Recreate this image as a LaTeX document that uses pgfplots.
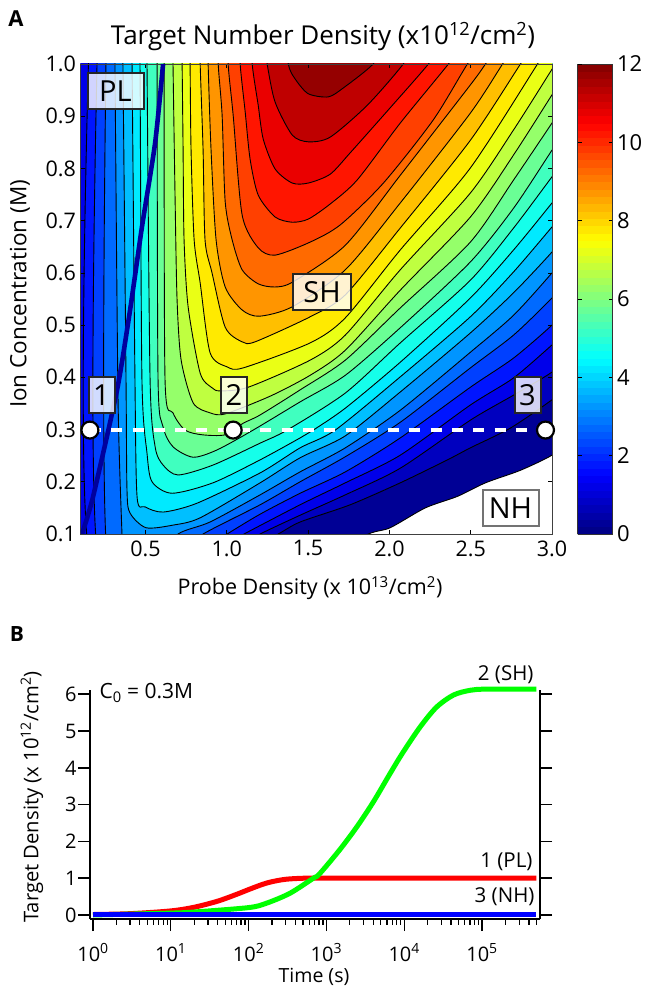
\documentclass[border=0pt]{standalone}
\usepackage{pgfplots}
\pgfplotsset{compat=1.18}
\usepackage{fontspec}
\setmainfont{Open Sans}
\definecolor{k0}{rgb}{0,0,.583}
\definecolor{k1}{rgb}{0,0,.75}
\definecolor{k2}{rgb}{0,0,.917}
\definecolor{k3}{rgb}{0,.083,1}
\definecolor{k4}{rgb}{0,.25,1}
\definecolor{k5}{rgb}{0,.417,1}
\definecolor{k6}{rgb}{0,.583,1}
\definecolor{k7}{rgb}{0,.75,1}
\definecolor{k8}{rgb}{0,.917,1}
\definecolor{k9}{rgb}{.083,1,.917}
\definecolor{k10}{rgb}{.25,1,.75}
\definecolor{k11}{rgb}{.417,1,.583}
\definecolor{k12}{rgb}{.583,1,.417}
\definecolor{k13}{rgb}{.75,1,.25}
\definecolor{k14}{rgb}{.917,1,.083}
\definecolor{k15}{rgb}{1,.917,0}
\definecolor{k16}{rgb}{1,.75,0}
\definecolor{k17}{rgb}{1,.583,0}
\definecolor{k18}{rgb}{1,.417,0}
\definecolor{k19}{rgb}{1,.25,0}
\definecolor{k20}{rgb}{1,.083,0}
\definecolor{k21}{rgb}{.917,0,0}
\definecolor{k22}{rgb}{.75,0,0}
\definecolor{k23}{rgb}{.583,0,0}
\definecolor{plblue}{rgb}{0,0,.62}
\newcommand{\band}[2]{\addplot[fill=#1,draw=black,line width=.9pt,line join=round,smooth,tension=.45,forget plot] coordinates {#2};}
\newcommand{\fs}[1]{\fontsize{#1}{#1}\selectfont}
\tikzset{lab/.style={draw=black!85,line width=2pt,fill=white,fill opacity=.82,text opacity=1,inner sep=0pt,minimum height=36pt,font=\fs{29}}}
\begin{document}
\begin{tikzpicture}
\useasboundingbox (0,0) rectangle (648pt,988pt);
% Panel A
\begin{axis}[name=main,at={(80.5pt,454pt)},anchor=south west,scale only axis,width=471.5pt,height=470pt,
 xmin=.1,xmax=3,ymin=.1,ymax=1,axis on top,
 xtick={.5,1,1.5,2,2.5,3},ytick={.1,.2,.3,.4,.5,.6,.7,.8,.9,1},
 tick align=inside,major tick length=4pt,tick style={black,line width=.7pt},
 axis line style={black!75,line width=.9pt},
 tick label style={font=\fs{21.5},/pgf/number format/assume math mode=true,/pgf/number format/fixed,/pgf/number format/fixed zerofill,/pgf/number format/precision=1},
 colormap/jet,point meta min=0,point meta max=12,colorbar sampled,
 colorbar style={samples=65,at={(parent axis.north east)},anchor=north west,xshift=17pt,
  scale only axis,width=35pt,height=470pt,ytick={0,2,...,12},ytick pos=both,yticklabel pos=right,
  tick align=inside,major tick length=4pt,axis line style={black!80,line width=.9pt},
  tick label style={font=\fs{22}},
  yticklabel style={xshift=1pt,/pgf/number format/fixed,/pgf/number format/precision=0,/pgf/number format/assume math mode=true}},
 xticklabel style={yshift=-3pt},yticklabel style={xshift=-1pt},
]
\band{k0}{(.05,1.1)(.05,.05)(1.5,.05)(1.870,.1)(2.005,.112)(2.221,.150)(2.418,.172)(2.591,.198)(2.806,.222)(3,.251)(3.1,.28)(3.1,1.1)}
\band{k1}{(.05,1.1)(.05,.05)(1.1,.065)(1.316,.1)(1.451,.123)(1.759,.156)(2.067,.198)(2.357,.242)(2.498,.265)(2.745,.303)(3,.357)(3.1,.385)(3.1,1.1)}
\band{k2}{(.05,1.1)(.05,.05)(1.0,.065)(1.205,.1)(1.451,.136)(1.729,.175)(2.067,.226)(2.498,.318)(2.764,.366)(3,.410)(3.1,.44)(3.1,1.1)}
\band{k3}{(.158,1.1)(.158,.05)(.9,.065)(1.106,.1)(1.451,.156)(1.729,.198)(2.067,.251)(2.498,.347)(2.764,.399)(3,.462)(3.1,.49)(3.1,1.1)}
\band{k4}{(.209,1.1)(.209,.05)(.8,.06)(1.002,.1)(1.205,.138)(1.451,.178)(1.729,.219)(2.067,.284)(2.498,.381)(2.764,.437)(3,.500)(3.1,.535)(3.1,1.1)}
\band{k5}{(.261,1.1)(.265,.05)(.65,.055)(.854,.1)(1.205,.156)(1.451,.200)(1.729,.248)(2.067,.314)(2.498,.418)(2.764,.481)(3,.552)(3.1,.59)(3.1,1.1)}
\band{k6}{(.31,1.1)(.312,1)(.331,.357)(.355,.1)(.36,.05)(.55,.05)(.700,.1)(.897,.123)(1.205,.175)(1.451,.219)(1.729,.265)(2.067,.337)(2.498,.448)(2.764,.519)(3,.600)(3.1,.64)(3.1,1.1)}
\band{k7}{(.355,1.1)(.361,1)(.380,.395)(.386,.184)(.405,.140)(.503,.112)(.669,.117)(.836,.131)(1.205,.198)(1.451,.246)(1.729,.288)(2.067,.372)(2.498,.485)(2.764,.562)(3,.640)(3.1,.68)(3.1,1.1)}
\band{k8}{(.41,1.1)(.417,1)(.435,.395)(.448,.171)(.497,.152)(.608,.142)(.817,.159)(1.205,.217)(1.451,.265)(1.667,.299)(2.067,.401)(2.498,.516)(2.764,.602)(3,.688)(3.1,.725)(3.1,1.1)}
\band{k9}{(.46,1.1)(.466,1)(.478,.395)(.509,.255)(.540,.200)(.663,.178)(.915,.198)(1.205,.242)(1.451,.284)(1.532,.299)(1.729,.341)(2.067,.429)(2.498,.552)(2.764,.644)(3,.734)(3.1,.775)(3.1,1.1)}
\band{k10}{(.505,1.1)(.509,1)(.528,.395)(.559,.267)(.608,.232)(.700,.213)(.915,.232)(1.205,.274)(1.371,.299)(1.729,.370)(2.067,.466)(2.498,.586)(2.764,.686)(3,.784)(3.1,.825)(3.1,1.1)}
\band{k11}{(.57,1.1)(.571,1)(.577,.395)(.608,.305)(.669,.267)(.793,.247)(.940,.261)(1.162,.299)(1.451,.353)(1.729,.404)(2.067,.495)(2.498,.621)(2.764,.724)(3,.835)(3.1,.88)(3.1,1.1)}
\band{k12}{(.61,1.1)(.614,1)(.620,.395)(.669,.332)(.743,.299)(.848,.290)(.990,.290)(1.100,.312)(1.205,.328)(1.451,.376)(1.729,.433)(2.067,.533)(2.498,.659)(2.764,.778)(3,.887)(3.1,.935)(3.1,1.1)}
\band{k13}{(.665,1.1)(.669,1)(.682,.738)(.694,.548)(.719,.433)(.793,.351)(.897,.332)(.990,.330)(1.267,.364)(1.513,.404)(1.729,.452)(2.067,.567)(2.498,.707)(2.764,.826)(3,.941)(3.1,.99)(3.1,1.1)}
\band{k14}{(.72,1.1)(.725,1)(.731,.835)(.737,.663)(.762,.535)(.836,.408)(.909,.380)(.959,.374)(1.131,.381)(1.513,.433)(1.729,.481)(2.067,.606)(2.498,.753)(2.764,.874)(3,.990)(3.1,1.04)(3.1,1.1)}
\band{k15}{(.77,1.1)(.774,1)(.780,.835)(.799,.663)(.836,.581)(.897,.447)(1.002,.420)(1.100,.418)(1.513,.466)(1.729,.514)(2.067,.644)(2.498,.801)(2.911,1)(3,1.045)(3,1.1)}
\band{k16}{(.83,1.1)(.836,1)(.854,.835)(.866,.663)(.909,.600)(.990,.496)(1.094,.468)(1.174,.468)(1.513,.516)(1.729,.558)(2.067,.686)(2.498,.854)(2.806,1)(2.9,1.045)(2.9,1.1)}
\band{k17}{(.88,1.1)(.885,1)(.903,.835)(.934,.663)(.990,.573)(1.094,.529)(1.199,.517)(1.402,.535)(1.729,.606)(2.067,.734)(2.498,.906)(2.696,1)(2.8,1.05)(2.8,1.1)}
\band{k18}{(.94,1.1)(.947,1)(.971,.902)(.990,.736)(1.033,.663)(1.094,.606)(1.193,.579)(1.297,.573)(1.408,.583)(1.729,.653)(2.067,.787)(2.498,.960)(2.591,1)(2.7,1.05)(2.7,1.1)}
\band{k19}{(1.0,1.1)(1.008,1)(1.039,.902)(1.094,.711)(1.193,.648)(1.297,.634)(1.513,.659)(1.698,.692)(1.963,.772)(2.270,.893)(2.480,1)(2.6,1.05)(2.6,1.1)}
\band{k20}{(1.07,1.1)(1.082,1)(1.113,.908)(1.143,.818)(1.193,.749)(1.297,.707)(1.402,.697)(1.501,.703)(1.636,.732)(1.802,.778)(2.067,.887)(2.363,1)(2.48,1.05)(2.48,1.1)}
\band{k21}{(1.14,1.1)(1.156,1)(1.193,.921)(1.224,.856)(1.297,.799)(1.402,.772)(1.501,.772)(1.636,.789)(1.759,.830)(1.993,.912)(2.240,1)(2.35,1.05)(2.35,1.1)}
\band{k22}{(1.2,1.1)(1.248,1)(1.297,.927)(1.402,.864)(1.501,.851)(1.636,.860)(1.864,.921)(2.085,1)(2.2,1.06)(2.2,1.1)}
\band{k23}{(1.33,1.1)(1.378,1)(1.421,.971)(1.501,.943)(1.624,.937)(1.716,.954)(1.90,1)(2.0,1.05)(2.0,1.1)}
\end{axis}
% Overlay on panel A
\begin{axis}[at={(80.5pt,454pt)},anchor=south west,scale only axis,width=471.5pt,height=470pt,
 xmin=.1,xmax=3,ymin=.1,ymax=1,hide axis,clip mode=individual]
\addplot[plblue,line width=4.6pt,line cap=butt,smooth,tension=.4] coordinates {(.608,1)(.559,.849)(.478,.688)(.405,.529)(.325,.376)(.177,.171)(.109,.1)};
\addplot[white,line width=4.5pt,dash pattern=on 11pt off 10.3pt] coordinates {(.158,.299)(2.96,.299)};
\addplot[only marks,mark=*,mark size=8.5pt,mark options={fill=white,draw=black,line width=2.2pt}] coordinates {(.158,.299)(1.039,.299)(2.96,.299)};
\end{axis}
\node[lab,minimum width=56pt] at (115.5pt,896.5pt) {PL};
\node[lab,minimum width=58pt] at (322pt,696pt) {SH};
\node[lab,minimum width=26pt] at (101.5pt,593pt) {1};
\node[lab,minimum width=26pt] at (234pt,593pt) {2};
\node[lab,minimum width=26pt] at (527.5pt,592.5pt) {3};
\node[lab,minimum width=56pt,draw=black!55,fill opacity=1] at (510.5pt,480pt) {NH};
\node[anchor=center,font=\fs{26}] at (323pt,951pt) {Target Number Density (x10\textsuperscript{12}/cm\textsuperscript{2})};
\node[anchor=center,font=\fs{22.5},rotate=90] at (20pt,694pt) {Ion Concentration (M)};
\node[anchor=center,font=\fs{21.5}] at (310pt,400pt) {Probe Density (x 10\textsuperscript{13}/cm\textsuperscript{2})};
\node[anchor=center,font=\fs{22}\bfseries] at (16pt,969pt) {A};
\node[anchor=center,font=\fs{21}\bfseries] at (17pt,354pt) {B};
% Panel B
\begin{axis}[at={(90pt,69pt)},anchor=south west,scale only axis,width=450pt,height=229.5pt,
 xmode=log,log basis x=10,xmin=.915,xmax=556000,ymin=-.11,ymax=6.13,clip=false,
 axis x line*=bottom,axis y line*=left,
 xtick={1,10,100,1000,10000,100000},
 minor xtick={2,3,4,5,6,7,8,9,20,30,40,50,60,70,80,90,200,300,400,500,600,700,800,900,2000,3000,4000,5000,6000,7000,8000,9000,20000,30000,40000,50000,60000,70000,80000,90000,200000,300000,400000,500000},
 xticklabels={10\textsuperscript{0},10\textsuperscript{1},10\textsuperscript{2},10\textsuperscript{3},10\textsuperscript{4},10\textsuperscript{5}},
 ytick={0,1,2,3,4,5,6},
 tick align=outside,major tick length=12pt,minor tick length=6pt,
 every x tick/.style={black,line width=1.3pt},every minor tick/.style={black,line width=1.3pt},every y tick/.style={black,line width=1.6pt},
 axis line style={black,line width=1.8pt,-},
 tick label style={font=\fs{20},/pgf/number format/assume math mode=true},
 yticklabel style={xshift=2pt},xticklabel style={yshift=-9pt},
]
\addplot[red,line width=5pt,smooth,tension=.5] coordinates {(1,.012)(3,.035)(10,.11)(20,.21)(40,.375)(70,.56)(100,.69)(150,.83)(200,.905)(300,.97)(500,.998)(1000,1)(500000,1)};
\addplot[green,line width=5pt,smooth,tension=.5] coordinates {(1,0)(10,.05)(20,.08)(100,.2)(170,.32)(340,.59)(680,1)(810,1.11)(1480,1.77)(2450,2.39)(4000,3.07)(6600,3.85)(9500,4.40)(16000,5.11)(26000,5.65)(43000,5.98)(71000,6.11)(115000,6.14)(500000,6.14)};
\addplot[blue,line width=5pt] coordinates {(1,0)(500000,0)};
\end{axis}
\begin{axis}[at={(90pt,69pt)},anchor=south west,scale only axis,width=450pt,height=229.5pt,
 xmin=0,xmax=1,ymin=-.11,ymax=6.13,axis x line=none,axis y line*=right,
 ytick={0,1,2,3,4,5,6},yticklabels={},tick align=outside,major tick length=12pt,
 every y tick/.style={black,line width=1.6pt},axis line style={black,line width=1.8pt,-}]
\end{axis}
\node[anchor=west,font=\fs{21}] at (96pt,295pt) {C\textsubscript{0} = 0.3M};
\node[anchor=center,font=\fs{20.2},rotate=90] at (32pt,191pt) {Target Density (x 10\textsuperscript{12}/cm\textsuperscript{2})};
\node[anchor=center,font=\fs{19.5},inner sep=0pt] at (314pt,11pt) {Time (s)};
\node[anchor=east,font=\fs{20.5}] at (537pt,313pt) {2 (SH)};
\node[anchor=east,font=\fs{20.5}] at (536pt,126pt) {1 (PL)};
\node[anchor=east,font=\fs{20.5}] at (538pt,91pt) {3 (NH)};
\end{tikzpicture}
\end{document}
